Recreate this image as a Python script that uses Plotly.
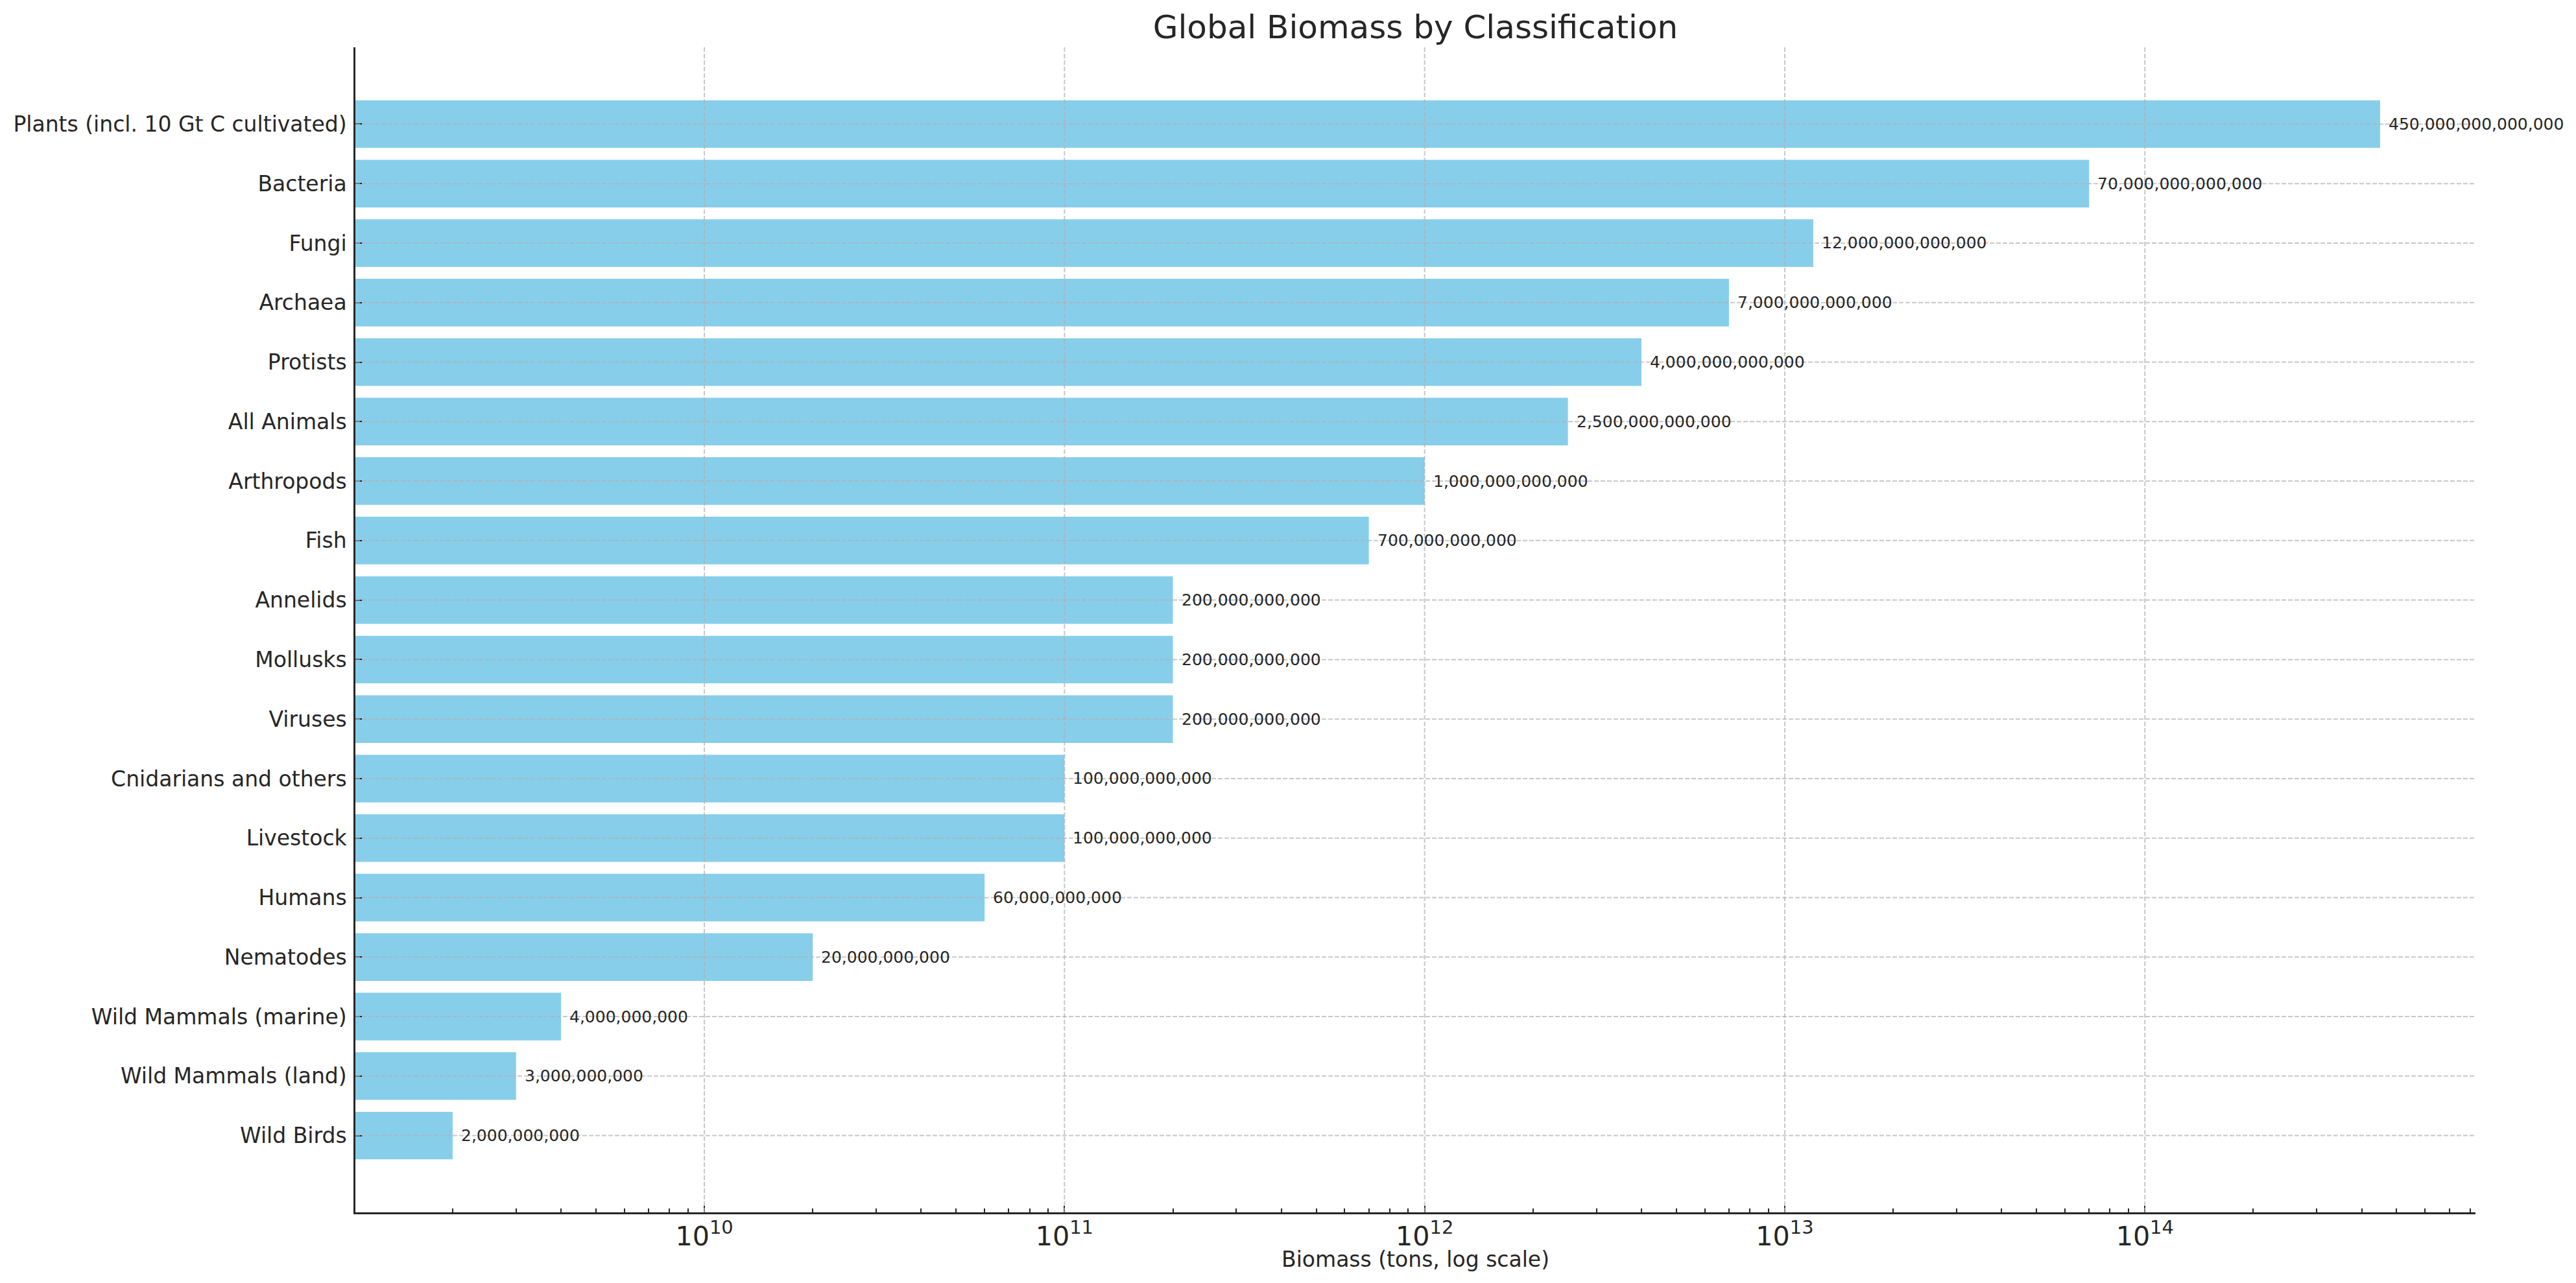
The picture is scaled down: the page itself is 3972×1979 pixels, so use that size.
import math
import plotly.graph_objects as go

categories = [
    "Plants (incl. 10 Gt C cultivated)", "Bacteria", "Fungi", "Archaea", "Protists",
    "All Animals", "Arthropods", "Fish", "Annelids", "Mollusks", "Viruses",
    "Cnidarians and others", "Livestock", "Humans", "Nematodes",
    "Wild Mammals (marine)", "Wild Mammals (land)", "Wild Birds",
]
biomass_tons = [
    450e12, 70e12, 12e12, 7e12, 4e12, 2.5e12, 1e12, 700e9, 200e9, 200e9, 200e9,
    100e9, 100e9, 60e9, 20e9, 4e9, 3e9, 2e9,
]
major_exponents = [10, 11, 12, 13, 14]

W, H = 3972, 1979
OFF = 8  # page body margin
L, R, T, B = 548 - OFF, 3817 - OFF, 73 - OFF, 1870 - OFF
TXT = "#262626"
FONT = "DejaVu Sans"

fig = go.Figure()
fig.add_trace(go.Bar(
    y=categories, x=biomass_tons, orientation="h",
    marker=dict(color="#87CEEB", line=dict(width=0)),
    width=0.8, showlegend=False,
))

n = len(categories)
pad = 0.05 * (n - 1 + 0.8)
grid_col = "rgba(176,176,176,0.7)"

shapes = []
for e in major_exponents:
    shapes.append(dict(type="line", xref="x", yref="paper", x0=10 ** e, x1=10 ** e, y0=0, y1=1,
                       layer="above", line=dict(color=grid_col, width=2, dash="7px,3px")))
for c in categories:
    shapes.append(dict(type="line", xref="paper", yref="y", x0=0, x1=1, y0=c, y1=c,
                       layer="above", line=dict(color=grid_col, width=2, dash="7px,3px")))

annotations = []
for c, v in zip(categories, biomass_tons):
    annotations.append(dict(x=math.log10(v), y=c, xref="x", yref="y",
                            text=f"{int(v):,}", showarrow=False, xanchor="left",
                            yanchor="middle", xshift=11,
                            font=dict(family=FONT, size=25, color=TXT)))
# x-axis title
annotations.append(dict(x=0.5, y=-73 / (B - T), xref="paper", yref="paper",
                        text="Biomass (tons, log scale)", showarrow=False,
                        xanchor="center", yanchor="middle",
                        font=dict(family=FONT, size=33, color=TXT)))

fig.update_layout(
    width=W, height=H,
    margin=dict(l=L, r=W - R, t=T, b=H - B, pad=0),
    paper_bgcolor="white", plot_bgcolor="white",
    font=dict(family=FONT, color=TXT),
    title=dict(text="Global Biomass by Classification", x=(L + R) / 2 / W, xanchor="center",
               y=1 - (41 - OFF) / H, yanchor="middle", yref="container",
               font=dict(family=FONT, size=50, color=TXT)),
    shapes=shapes, annotations=annotations,
    bargap=0.2,
)
fig.update_xaxes(
    type="log", range=[9.031, 14.918], dtick=1, exponentformat="power",
    showgrid=False, zeroline=False,
    showline=True, linecolor=TXT, linewidth=2.5,
    ticks="inside", ticklen=10, tickwidth=2, tickcolor=TXT,
    minor=dict(ticks="inside", ticklen=6, tickwidth=1.5, tickcolor=TXT, dtick="D1", showgrid=False),
    tickfont=dict(family=FONT, size=33, color=TXT),
)
fig.update_yaxes(
    type="category", range=[n - 1 + pad + 0.4, -pad - 0.4],
    showgrid=False, zeroline=False,
    showline=True, linecolor=TXT, linewidth=2.5,
    ticks="inside", ticklen=10, tickwidth=2, tickcolor=TXT,
    tickfont=dict(family=FONT, size=33, color=TXT),
    ticklabelstandoff=4,
)

fig.write_html("out.html")
